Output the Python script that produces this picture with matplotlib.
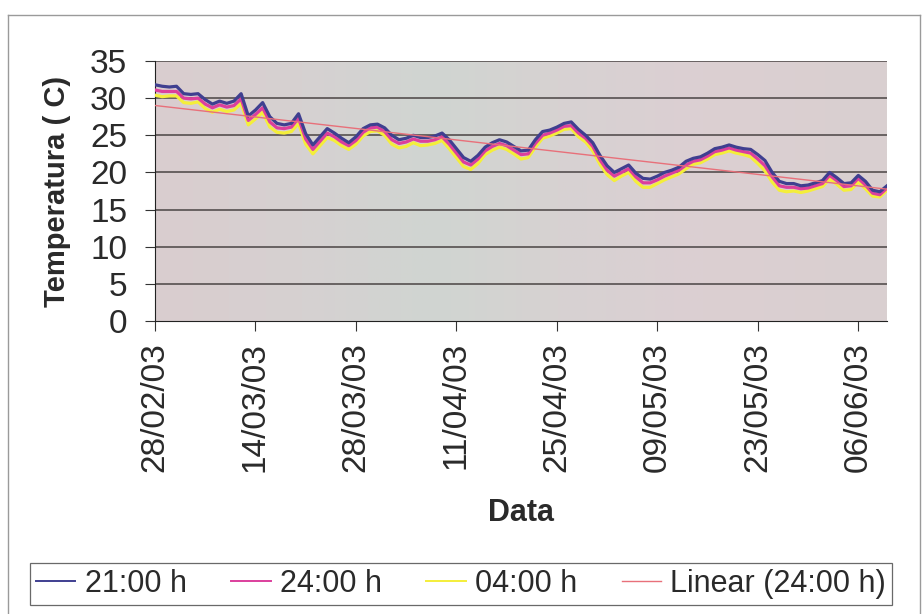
import numpy as np
import pandas as pd
import matplotlib
matplotlib.use("Agg")
import matplotlib.pyplot as plt
import matplotlib.dates as mdates
from matplotlib.colors import LinearSegmentedColormap
from matplotlib.lines import Line2D

plt.rcParams['font.family'] = ['Liberation Sans', 'DejaVu Sans']

# temperaturas diarias (C) em tres horarios
t_2100 = [31.8, 31.6, 31.5, 31.6, 30.6, 30.5, 30.6, 29.8, 29.2, 29.6, 29.3, 29.6, 30.6, 27.6, 28.4,
          29.4, 27.5, 26.6, 26.4, 26.6, 27.9, 25.2, 23.7, 24.8, 25.9, 25.3, 24.6, 24.0, 24.8, 25.9,
          26.4, 26.5, 26.0, 25.0, 24.4, 24.6, 25.0, 24.7, 24.7, 24.9, 25.3, 24.4, 23.2, 22.0, 21.5,
          22.3, 23.4, 24.0, 24.4, 24.1, 23.5, 22.9, 23.0, 24.4, 25.5, 25.7, 26.1, 26.6, 26.8, 25.8,
          25.0, 24.0, 22.3, 20.9, 20.0, 20.5, 21.0, 19.9, 19.2, 19.1, 19.5, 20.0, 20.3, 20.7, 21.5,
          21.9, 22.1, 22.6, 23.2, 23.4, 23.7, 23.4, 23.2, 23.1, 22.4, 21.6, 20.0, 18.8, 18.5, 18.5,
          18.2, 18.3, 18.6, 18.9, 20.0, 19.3, 18.5, 18.6, 19.6, 18.8, 17.6, 17.4, 18.2]
t_2400 = [31.1, 30.9, 30.9, 30.9, 30.0, 29.9, 30.0, 29.2, 28.7, 29.1, 28.8, 29.0, 29.9, 27.0, 27.8,
          28.7, 26.8, 26.0, 25.9, 26.1, 27.3, 24.5, 23.1, 24.2, 25.3, 24.8, 24.1, 23.6, 24.3, 25.4,
          26.0, 26.1, 25.5, 24.4, 23.9, 24.1, 24.5, 24.2, 24.2, 24.4, 24.8, 23.8, 22.6, 21.4, 21.0,
          21.8, 22.9, 23.5, 23.9, 23.6, 23.0, 22.4, 22.5, 23.9, 25.0, 25.3, 25.7, 26.2, 26.3, 25.3,
          24.6, 23.5, 21.7, 20.3, 19.5, 20.0, 20.5, 19.4, 18.6, 18.6, 19.0, 19.5, 19.9, 20.3, 21.0,
          21.5, 21.7, 22.2, 22.8, 23.0, 23.3, 23.0, 22.8, 22.6, 21.8, 20.9, 19.4, 18.2, 18.0, 18.0,
          17.8, 17.9, 18.2, 18.5, 19.6, 18.9, 18.1, 18.2, 19.2, 18.3, 17.2, 17.0, 17.9]
t_0400 = [30.4, 30.2, 30.3, 30.3, 29.4, 29.3, 29.5, 28.6, 28.1, 28.5, 28.2, 28.4, 29.3, 26.4, 27.2,
          28.1, 26.1, 25.4, 25.3, 25.5, 26.6, 23.8, 22.5, 23.6, 24.7, 24.3, 23.6, 23.1, 23.8, 24.9,
          25.5, 25.6, 25.0, 23.8, 23.3, 23.5, 24.0, 23.6, 23.7, 23.9, 24.3, 23.2, 22.0, 20.8, 20.4,
          21.2, 22.4, 23.0, 23.4, 23.1, 22.5, 21.8, 22.0, 23.4, 24.6, 24.9, 25.3, 25.8, 25.9, 24.8,
          24.1, 22.9, 21.1, 19.7, 18.9, 19.5, 20.0, 18.8, 18.0, 18.0, 18.5, 19.0, 19.4, 19.8, 20.5,
          21.1, 21.3, 21.8, 22.4, 22.6, 22.9, 22.6, 22.4, 22.1, 21.2, 20.2, 18.7, 17.6, 17.4, 17.5,
          17.3, 17.5, 17.8, 18.1, 19.1, 18.4, 17.6, 17.7, 18.7, 17.8, 16.8, 16.7, 17.6]

datas = pd.date_range('2003-02-28', periods=len(t_2100), freq='D')
ticks_x = pd.date_range('2003-02-28', '2003-06-06', freq='14D')

fig = plt.figure(figsize=(9.23, 6.14), dpi=100)
ax = fig.add_axes([155 / 923, 1 - 321 / 614, (887 - 155) / 923, (321 - 61) / 614])

# fundo da area do grafico (cinza levemente rosado)
fundo = LinearSegmentedColormap.from_list('fundo', [
    (0.0, '#dacdcf'), (0.2, '#d6d1d1'), (0.38, '#d0d5d1'),
    (0.55, '#d7d2d2'), (0.75, '#dccfd2'), (1.0, '#d9d0d0')])
ax.imshow(np.linspace(0, 1, 256).reshape(1, -1), cmap=fundo, aspect='auto',
          extent=[0, 1, 0, 1], transform=ax.transAxes, zorder=0)

for yv in range(5, 40, 5):
    ax.axhline(yv, color='#4a4444', lw=1.1, zorder=1)

ax.plot(datas, t_0400, color='#f4ee3a', lw=2.3, zorder=3)
ax.plot(datas, t_2400, color='#dc3f9c', lw=2.3, zorder=4)
ax.plot(datas, t_2100, color='#3f3f90', lw=2.3, zorder=5)

# linha de tendencia linear da serie das 24:00
dias = np.arange(len(t_2400))
a, b = np.polyfit(dias, t_2400, 1)
ax.plot(datas, a * dias + b, color='#e8707a', lw=1.0, zorder=6)

ax.set_xlim(datas[0], datas[-1])
ax.set_ylim(0, 35)
ax.set_yticks(range(0, 40, 5))
ax.set_xticks(ticks_x)
ax.xaxis.set_major_formatter(mdates.DateFormatter('%d/%m/%y'))
ax.tick_params(axis='x', labelrotation=90, labelsize=24, length=7, color='#333', pad=8)
ax.tick_params(axis='y', labelsize=24, length=7, color='#333', pad=13)
for lbl in ax.get_xticklabels() + ax.get_yticklabels():
    lbl.set_color('#2a2a2a')

for s in ['top', 'right']:
    ax.spines[s].set_visible(False)
ax.spines['left'].set_color('#222')
ax.spines['bottom'].set_color('#222')

ax.set_ylabel('Temperatura ( C)', fontsize=21, fontweight='bold', color='#2a2a2a', labelpad=14)
ax.set_xlabel('Data', fontsize=22, fontweight='bold', color='#2a2a2a', labelpad=19)

# moldura externa do grafico
for xs, ys in [([8, 920], [15, 15]), ([8, 8], [15, 614]), ([920, 920], [15, 614])]:
    fig.add_artist(Line2D([x / 923 for x in xs], [1 - y / 614 for y in ys],
                          color='#9a9a9a', lw=1.0))

handles = [Line2D([], [], color='#3f3f90', lw=1.4),
           Line2D([], [], color='#dc3f9c', lw=1.4),
           Line2D([], [], color='#f4ee3a', lw=1.4),
           Line2D([], [], color='#e8707a', lw=1.0)]
nomes = ['21:00 h', '24:00 h', '04:00 h', 'Linear (24:00 h)']
leg = fig.legend(handles, nomes, loc='center', ncol=4,
                 bbox_to_anchor=(461 / 923, 1 - 584 / 614),
                 fontsize=22, frameon=True, fancybox=False, handlelength=1.3,
                 handletextpad=0.3, columnspacing=1.45, borderpad=0.2, borderaxespad=0)
leg.get_frame().set_edgecolor('#444')
leg.get_frame().set_linewidth(0.9)
for t in leg.get_texts():
    t.set_color('#2a2a2a')

fig.savefig('out.png', dpi=100)
